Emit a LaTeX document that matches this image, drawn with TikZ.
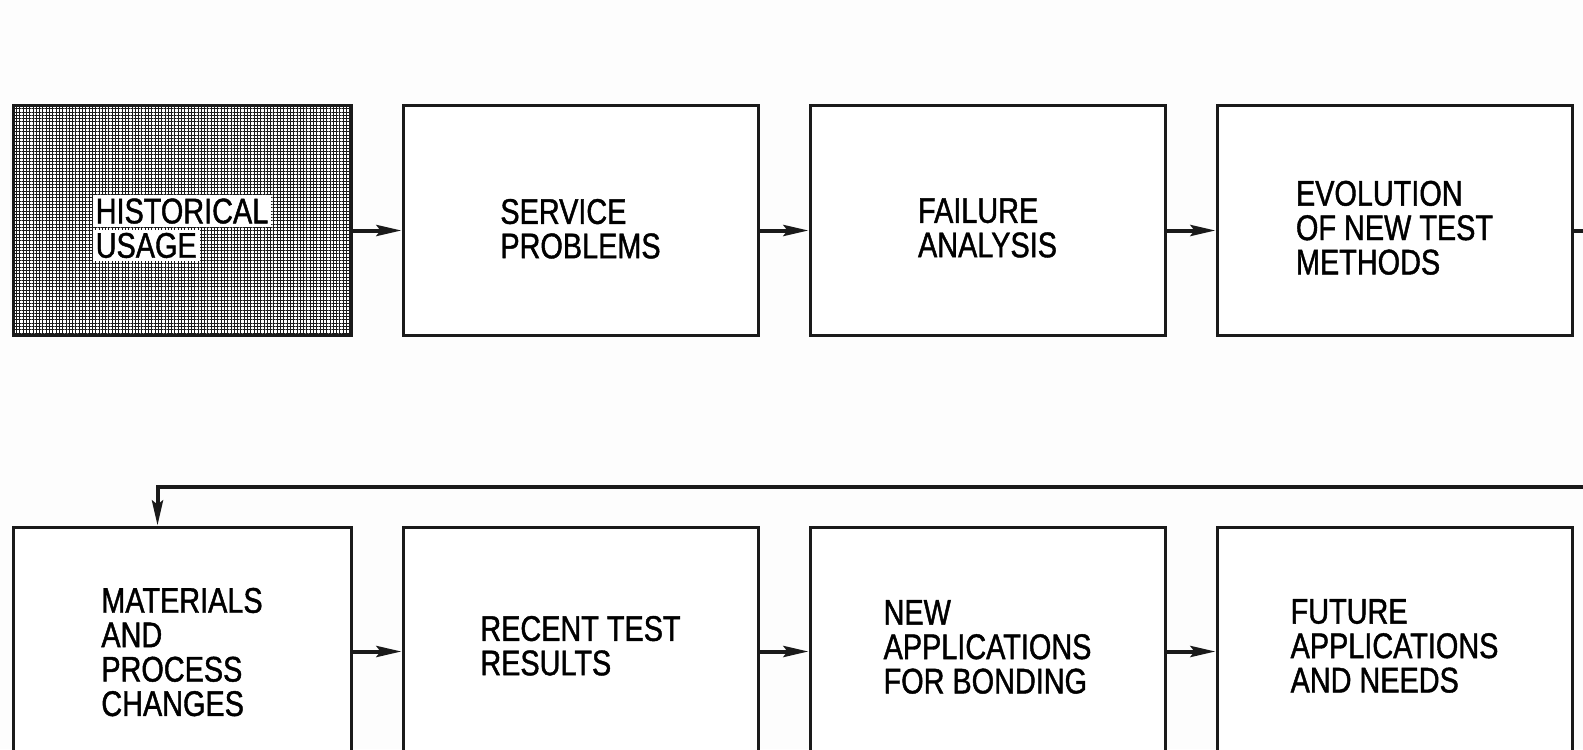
\documentclass[tikz,border=0pt]{standalone}
\usepackage{fontspec}
\setmainfont{Liberation Sans}[FakeStretch=0.81, FakeBold=1.2]
\usetikzlibrary{arrows.meta,positioning,patterns.meta}
\definecolor{flowink}{HTML}{1A1A1A}
\definecolor{flowpaper}{HTML}{FDFDFD}
% white patch behind a line of text on the shaded box
\newcommand{\hilite}[1]{{\setlength{\fboxsep}{1.5pt}\colorbox{white}{#1}}}
% tall first line, drops the text block a little below the box centre
\newcommand{\drop}[1][19.7pt]{\rule{0pt}{#1}}
\tikzset{
  bx/.style={draw=flowink, line width=1.5pt, align=left, font=\fontsize{17.8}{17.2}\selectfont,
    minimum height=114.5pt, inner sep=0pt},
  blk/.style={bx, fill=white, minimum width=177.5pt},
  nar/.style={bx, fill=white, minimum width=169pt},
  tone/.style={nar,
    postaction={pattern={Lines[angle=0, distance=1.65pt, line width=0.5pt]}, pattern color=flowink},
    postaction={pattern={Lines[angle=90, distance=1.65pt, line width=0.5pt]}, pattern color=flowink}},
  arr/.style={-{Stealth[length=12.5pt, width=5.5pt, inset=2pt]}, line width=2pt, color=flowink},
}

\begin{document}
\begin{tikzpicture}[node distance=24.5pt]
  \path[use as bounding box, fill=flowpaper] (0,0) rectangle (791.5pt,-374.5pt);
  \clip (0,0) rectangle (791.5pt,-374.5pt);
  % top row
  \node[tone] (hist) at (91pt,-110.25pt) {\drop[21.7pt]\hilite{HISTORICAL}\\\hilite{USAGE}};
  \node[blk, right=of hist] (serv) {\drop[20.7pt]SERVICE\\PROBLEMS};
  \node[blk, right=of serv] (fail) {\drop FAILURE\\ANALYSIS};
  \node[blk, right=of fail] (evo) {\drop EVOLUTION\\OF NEW TEST\\METHODS};
  % bottom row
  \node[nar, below=94.5pt of hist] (mat) {\drop[23pt]MATERIALS\\AND\\PROCESS\\CHANGES};
  \node[blk, right=of mat] (rec) {\drop[16.7pt]RECENT TEST\\RESULTS};
  \node[blk, right=of rec] (newapp) {\drop[17.7pt]NEW\\APPLICATIONS\\FOR BONDING};
  \node[blk, right=of newapp] (fut) {\drop[16.7pt]FUTURE\\APPLICATIONS\\AND NEEDS};
  \draw[arr] ([yshift=-5pt]hist.east) -- ([yshift=-5pt]serv.west);
  \draw[arr] ([yshift=-5pt]serv.east) -- ([yshift=-5pt]fail.west);
  \draw[arr] ([yshift=-5pt]fail.east) -- ([yshift=-5pt]evo.west);
  \draw[arr] ([yshift=-5pt]mat.east) -- ([yshift=-5pt]rec.west);
  \draw[arr] ([yshift=-5pt]rec.east) -- ([yshift=-5pt]newapp.west);
  \draw[arr] ([yshift=-5pt]newapp.east) -- ([yshift=-5pt]fut.west);
  % return line to the second row
  \coordinate (turn) at ([xshift=30pt,yshift=-5pt]evo.east);
  \coordinate (back) at ([xshift=73pt,yshift=19.5pt]mat.north west);
  \draw[arr] ([yshift=-5pt]evo.east) -- (turn) |- (back) -- (back |- mat.north);
\end{tikzpicture}
\end{document}
